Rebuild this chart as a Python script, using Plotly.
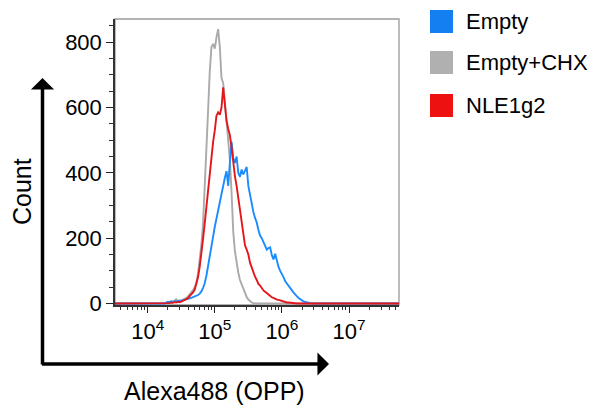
import plotly.graph_objects as go

# ---- data (histogram bins on log10 scale of Alexa488 intensity) ----
log_bins = [3.5,
    4.200, 4.225, 4.250, 4.275, 4.300, 4.325, 4.350, 4.375, 4.400, 4.425,
    4.450, 4.475, 4.500, 4.525, 4.550, 4.575, 4.600, 4.625, 4.650, 4.675,
    4.700, 4.725, 4.750, 4.775, 4.800, 4.825, 4.850, 4.875, 4.900, 4.925,
    4.950, 4.975, 5.000, 5.025, 5.050, 5.075, 5.100, 5.125, 5.150, 5.175,
    5.200, 5.225, 5.250, 5.275, 5.300, 5.325, 5.350, 5.375, 5.400, 5.425,
    5.450, 5.475, 5.500, 5.525, 5.550, 5.575, 5.600, 5.625, 5.650, 5.675,
    5.700, 5.725, 5.750, 5.775, 5.800, 5.825, 5.850, 5.875, 5.900, 5.925,
    5.950, 5.975, 6.000, 6.025, 6.050, 6.075, 6.100, 6.125, 6.150, 6.175,
    6.200, 6.225, 6.250, 6.275, 6.300, 6.325, 6.350, 6.375, 6.400, 6.425,
    6.450, 6.475, 6.500,
    7.8]

empty = [0,
    0, 0, 0, 3, 5, 4, 6, 5, 7, 6,
    8, 9, 8, 10, 11, 12, 14, 16, 17, 19,
    20, 22, 26, 30, 37, 48, 62, 85, 112, 142,
    175, 205, 235, 262, 288, 312, 335, 362, 385, 405,
    360, 432, 495, 445, 430, 450, 400, 388, 410, 395,
    405, 418, 360, 330, 305, 280, 262, 248, 225, 208,
    200, 190, 178, 165, 170, 172, 148, 135, 152, 128,
    112, 100, 92, 80, 68, 60, 52, 45, 40, 33,
    26, 22, 17, 13, 8, 6, 5, 3, 2, 1,
    0, 0, 0,
    0]

empty_chx = [0,
    0, 0, 0, 0, 0, 3, 7, 4, 10, 13,
    8, 5, 9, 11, 14, 17, 22, 28, 34, 41,
    50, 62, 92, 128, 180, 245, 345, 460, 590, 710,
    785, 795, 780, 815, 840, 785, 690, 675, 620, 560,
    500, 440, 340, 220, 160, 120, 95, 72, 58, 42,
    32, 20, 12, 6, 3, 1, 0, 0, 0, 0,
    0, 0, 0, 0, 0, 0, 0, 0, 0, 0,
    0, 0, 0, 0, 0, 0, 0, 0, 0, 0,
    0, 0, 0, 0, 0, 0, 0, 0, 0, 0,
    0, 0, 0,
    0]

nle1g2 = [0,
    0, 0, 1, 0, 2, 1, 3, 2, 4, 3,
    5, 4, 6, 8, 10, 13, 17, 22, 28, 34,
    42, 58, 80, 112, 150, 198, 245, 298, 350, 400,
    448, 495, 530, 575, 585, 578, 600, 662, 610, 560,
    535, 515, 478, 430, 390, 360, 325, 285, 245, 215,
    178, 165, 150, 125, 108, 92, 82, 72, 60, 55,
    46, 40, 36, 32, 26, 24, 19, 17, 14, 12,
    11, 9, 7, 6, 4, 3, 3, 2, 1, 1,
    0, 0, 0, 0, 0, 0, 0, 0, 0, 0,
    0, 0, 0,
    0]

series_names = ["Empty", "Empty+CHX", "NLE1g2"]
series_colors = ["#1a8cff", "#aaaaaa", "#e3161c"]
legend_colors = ["#137ff0", "#b0b0b0", "#ee1111"]
y_tickvals = [0, 200, 400, 600, 800]
x_tickvals = [1e4, 1e5, 1e6, 1e7]
x_ticktext = ["10<sup>4</sup>", "10<sup>5</sup>", "10<sup>6</sup>", "10<sup>7</sup>"]

# ---- figure geometry (pixels in the 597x405 window; page body has an 8px margin) ----
OFF = 8
W, H = 597 - OFF, 405 - OFF
PL, PR, PT, PB = 115, 399, 19, 305          # plot box in window pixels
L, T = PL - OFF, PT - OFF
R, B = W - (PR - OFF), H - (PB - OFF)
PW, PH = PR - PL, PB - PT


def px(xp):
    return (xp - PL) / PW


def py(yp):
    return (PB - yp) / PH


FONT = "Liberation Sans, Arial, Helvetica, sans-serif"
x_vals = [10 ** v for v in log_bins]
data_by_name = {"Empty": empty, "Empty+CHX": empty_chx, "NLE1g2": nle1g2}
color_by_name = dict(zip(series_names, series_colors))

fig = go.Figure()
for name in ["Empty+CHX", "Empty", "NLE1g2"]:
    fig.add_trace(go.Scatter(
        x=x_vals, y=data_by_name[name], mode="lines", name=name,
        line=dict(color=color_by_name[name], width=1.9), showlegend=False,
    ))

minor_x = [m * 10 ** e for e in range(3, 8) for m in range(2, 10)]

fig.update_layout(
    width=W, height=H,
    margin=dict(l=L, r=R, t=T, b=B, autoexpand=False),
    paper_bgcolor="white", plot_bgcolor="white",
    font=dict(family=FONT, size=22, color="black"),
    xaxis=dict(
        type="log", range=[3.513, 7.745],
        tickmode="array", tickvals=x_tickvals, ticktext=x_ticktext,
        ticks="outside", ticklen=6, tickwidth=1.2, tickcolor="#222",
        showgrid=False, zeroline=False,
        showline=True, linecolor="#333", linewidth=1.5,
        tickfont=dict(size=22),
        minor=dict(tickmode="array", tickvals=minor_x, ticks="outside",
                   ticklen=3, tickwidth=1, tickcolor="#333", showgrid=False),
    ),
    yaxis=dict(
        range=[-4.6, 871],
        tickmode="array", tickvals=y_tickvals,
        ticks="outside", ticklen=7, tickwidth=1.2, tickcolor="#222",
        showgrid=False, zeroline=False,
        showline=True, linecolor="#333", linewidth=1.5,
        tickfont=dict(size=22),
        minor=dict(dtick=50, ticks="outside", ticklen=4, tickwidth=1,
                   tickcolor="#333", showgrid=False),
    ),
)

shapes = [dict(type="rect", xref="paper", yref="paper", x0=0, x1=1, y0=0, y1=1,
               line=dict(color="#999999", width=1.3), layer="below")]
annotations = []

# legend (squares + text)
sq_tops = [10, 51, 94]
for name, col, top in zip(series_names, legend_colors, sq_tops):
    shapes.append(dict(type="rect", xref="paper", yref="paper",
                       x0=px(430), x1=px(453), y0=py(top + 23), y1=py(top),
                       line=dict(width=0), fillcolor=col))
    annotations.append(dict(xref="paper", yref="paper", x=px(464), y=py(top + 11.5),
                            text=name, showarrow=False, xanchor="left", yanchor="middle",
                            font=dict(size=22, family=FONT, color="black")))

# axis titles
annotations.append(dict(xref="paper", yref="paper", x=px(214), y=py(391), text="Alexa488 (OPP)",
                        showarrow=False, xanchor="center", yanchor="middle",
                        font=dict(size=25, family=FONT, color="black")))
annotations.append(dict(xref="paper", yref="paper", x=px(22), y=py(192), text="Count",
                        textangle=-90, showarrow=False, xanchor="center", yanchor="middle",
                        font=dict(size=25, family=FONT, color="black")))

# big axis arrows
annotations.append(dict(xref="paper", yref="paper", x=px(42.5), y=py(78), axref="pixel", ayref="pixel",
                        ax=0, ay=288, text="", showarrow=True, arrowhead=1, arrowsize=1.1,
                        arrowwidth=3.5, arrowcolor="black"))
annotations.append(dict(xref="paper", yref="paper", x=px(329), y=py(364), axref="pixel", ayref="pixel",
                        ax=-288.5, ay=0, text="", showarrow=True, arrowhead=1, arrowsize=1.1,
                        arrowwidth=3.5, arrowcolor="black"))

fig.update_layout(shapes=shapes, annotations=annotations)
fig.write_html("out.html")
